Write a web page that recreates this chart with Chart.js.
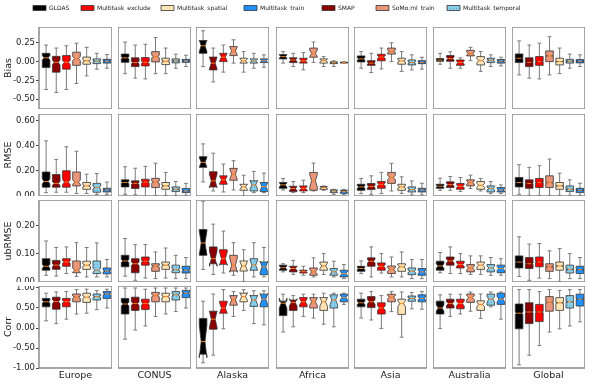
<!DOCTYPE html>
<html>
<head>
<meta charset="utf-8">
<script src="https://cdn.jsdelivr.net/npm/chart.js@4.4.1/dist/chart.umd.min.js"></script>
<style>
  html, body { margin: 0; padding: 0; background: #fff; }
  #fig { position: relative; width: 600px; height: 384px; overflow: hidden; }
  #fig canvas { position: absolute; }
</style>
</head>
<body>
<div id="fig"></div>
<script>
// Regions (columns) and series (boxes inside each panel, left to right)
const regions = ['Europe', 'CONUS', 'Alaska', 'Africa', 'Asia', 'Australia', 'Global'];
const seriesNames = ['GLDAS', 'SMAP', 'Multitask_exclude', 'SoMo.ml_train', 'Multitask_spatial', 'Multitask_temporal', 'Multitask_train'];
const legendOrder = ['GLDAS', 'Multitask_exclude', 'Multitask_spatial', 'Multitask_train', 'SMAP', 'SoMo.ml_train', 'Multitask_temporal'];
// number of sites per region (drives notch size, as matplotlib does)
const nSites = [100, 150, 12, 20, 60, 40, 1500];

const metricNames = ['Bias', 'RMSE', 'ubRMSE', 'Corr'];
const biasTicks = [-0.5, -0.25, 0, 0.25];
const rmseTicks = [0, 0.2, 0.4, 0.6];
const ubrmseTicks = [0, 0.1, 0.2];
const corrTicks = [-1, -0.5, 0, 0.5, 1];

// each box: [whisker low, q1, median, q3, whisker high]
const bias = [
  [[-0.37,-0.08,0.05,0.11,0.22],[-0.41,-0.14,-0.01,0.07,0.18],[-0.37,-0.10,-0.01,0.08,0.21],[-0.29,-0.05,0.04,0.125,0.245],[-0.19,-0.035,0.01,0.06,0.19],[-0.10,-0.027,0.005,0.036,0.11],[-0.088,-0.02,0.005,0.03,0.093]],
  [[-0.16,-0.01,0.05,0.10,0.26],[-0.22,-0.066,-0.013,0.05,0.22],[-0.23,-0.057,-0.01,0.053,0.23],[-0.16,-0.004,0.067,0.133,0.32],[-0.16,-0.04,0.005,0.045,0.18],[-0.088,-0.017,0.01,0.036,0.098],[-0.066,-0.01,0.01,0.03,0.085]],
  [[-0.066,0.11,0.21,0.28,0.41],[-0.27,-0.11,-0.02,0.06,0.18],[-0.14,0.0,0.06,0.11,0.22],[-0.02,0.08,0.142,0.2,0.29],[-0.14,-0.02,0.01,0.045,0.133],[-0.088,-0.02,0.01,0.036,0.11],[-0.075,-0.013,0.013,0.036,0.09]],
  [[-0.02,0.036,0.067,0.093,0.133],[-0.066,-0.013,0.022,0.05,0.11],[-0.11,-0.02,0.01,0.045,0.12],[-0.01,0.058,0.11,0.18,0.26],[-0.066,-0.02,0.013,0.036,0.067],[-0.066,-0.027,-0.013,-0.004,0.01],[-0.02,-0.017,-0.013,-0.008,-0.004]],
  [[-0.088,-0.004,0.036,0.076,0.133],[-0.146,-0.05,-0.02,0.013,0.11],[-0.097,0.01,0.06,0.098,0.18],[0.0,0.1,0.135,0.18,0.25],[-0.13,-0.035,0.01,0.045,0.133],[-0.11,-0.044,-0.013,0.022,0.09],[-0.1,-0.027,-0.01,0.013,0.058]],
  [[-0.035,0.005,0.02,0.04,0.11],[-0.088,0.005,0.04,0.08,0.13],[-0.088,-0.05,-0.013,0.022,0.05],[0.013,0.076,0.107,0.15,0.19],[-0.13,-0.044,0.013,0.067,0.133],[-0.066,-0.013,0.018,0.045,0.09],[-0.057,-0.02,0.005,0.027,0.058]],
  [[-0.177,-0.013,0.045,0.102,0.275],[-0.22,-0.066,-0.01,0.05,0.22],[-0.23,-0.05,0.0,0.067,0.245],[-0.177,0.0,0.076,0.142,0.33],[-0.16,-0.044,0.0,0.045,0.18],[-0.088,-0.02,0.005,0.03,0.1],[-0.066,-0.017,0.005,0.027,0.09]]
];
const rmse = [
  [[0.027,0.07,0.115,0.19,0.437],[0.03,0.07,0.10,0.17,0.29],[0.03,0.07,0.11,0.20,0.39],[0.02,0.08,0.11,0.19,0.355],[0.02,0.053,0.08,0.107,0.173],[0.013,0.03,0.067,0.1,0.178],[0.013,0.032,0.048,0.061,0.11]],
  [[0.013,0.072,0.107,0.128,0.232],[0.01,0.06,0.1,0.12,0.22],[0.0,0.072,0.11,0.133,0.235],[0.005,0.067,0.11,0.14,0.26],[0.005,0.053,0.08,0.107,0.187],[0.005,0.035,0.053,0.072,0.115],[0.005,0.027,0.04,0.06,0.1]],
  [[0.112,0.227,0.267,0.312,0.413],[0.04,0.072,0.12,0.192,0.339],[0.032,0.093,0.128,0.16,0.253],[0.048,0.125,0.173,0.219,0.28],[0.0,0.045,0.072,0.093,0.165],[0.027,0.04,0.088,0.12,0.195],[0.027,0.035,0.075,0.107,0.181]],
  [[0.048,0.061,0.088,0.107,0.139],[0.027,0.035,0.059,0.077,0.115],[0.027,0.04,0.061,0.08,0.125],[0.04,0.045,0.12,0.187,0.261],[0.045,0.053,0.067,0.075,0.08],[0.013,0.027,0.04,0.048,0.053],[0.013,0.021,0.035,0.045,0.053]],
  [[0.019,0.045,0.072,0.093,0.139],[0.013,0.051,0.075,0.099,0.16],[0.019,0.061,0.093,0.115,0.187],[0.04,0.1,0.147,0.187,0.259],[0.021,0.045,0.072,0.093,0.152],[0.008,0.032,0.051,0.072,0.12],[0.008,0.032,0.048,0.061,0.101]],
  [[0.045,0.061,0.077,0.093,0.141],[0.045,0.067,0.09,0.112,0.155],[0.035,0.053,0.077,0.099,0.147],[0.059,0.08,0.107,0.128,0.165],[0.04,0.053,0.085,0.115,0.139],[0.019,0.032,0.059,0.08,0.115],[0.019,0.032,0.048,0.067,0.088]],
  [[0.013,0.072,0.107,0.147,0.248],[0.005,0.061,0.099,0.128,0.227],[0.005,0.067,0.107,0.139,0.24],[0.005,0.067,0.107,0.16,0.293],[0.005,0.053,0.08,0.107,0.181],[0.005,0.035,0.053,0.08,0.128],[0.005,0.027,0.045,0.061,0.101]]
];
const ubrmse = [
  [[0.024,0.042,0.056,0.083,0.146],[0.021,0.045,0.06,0.077,0.123],[0.03,0.056,0.071,0.083,0.125],[0.02,0.033,0.042,0.075,0.14],[0.018,0.045,0.06,0.074,0.123],[0.018,0.03,0.042,0.075,0.139],[0.018,0.029,0.039,0.05,0.08]],
  [[0.021,0.054,0.075,0.095,0.155],[0.006,0.033,0.065,0.083,0.133],[0.014,0.06,0.074,0.089,0.133],[0.012,0.038,0.056,0.065,0.107],[0.014,0.045,0.06,0.071,0.121],[0.012,0.033,0.044,0.06,0.095],[0.012,0.032,0.042,0.056,0.087]],
  [[0.045,0.095,0.139,0.187,0.288],[0.027,0.065,0.083,0.125,0.206],[0.032,0.063,0.083,0.115,0.181],[0.024,0.039,0.06,0.095,0.14],[0.002,0.039,0.057,0.075,0.115],[0.018,0.042,0.06,0.083,0.14],[0.018,0.026,0.054,0.071,0.123]],
  [[0.036,0.042,0.051,0.06,0.065],[0.027,0.036,0.048,0.056,0.077],[0.024,0.032,0.037,0.042,0.056],[0.018,0.024,0.036,0.05,0.086],[0.027,0.042,0.057,0.071,0.101],[0.018,0.024,0.036,0.048,0.074],[0.012,0.018,0.03,0.042,0.062]],
  [[0.03,0.038,0.048,0.056,0.075],[0.018,0.056,0.074,0.086,0.125],[0.032,0.042,0.056,0.068,0.101],[0.018,0.03,0.045,0.057,0.089],[0.018,0.038,0.054,0.065,0.107],[0.012,0.026,0.038,0.05,0.08],[0.012,0.024,0.036,0.048,0.08]],
  [[0.033,0.042,0.057,0.074,0.105],[0.03,0.06,0.075,0.089,0.125],[0.03,0.05,0.062,0.074,0.101],[0.027,0.036,0.05,0.062,0.093],[0.027,0.045,0.06,0.071,0.093],[0.024,0.036,0.05,0.062,0.087],[0.024,0.033,0.048,0.06,0.083]],
  [[0.02,0.05,0.071,0.093,0.161],[0.006,0.048,0.065,0.087,0.135],[0.014,0.054,0.071,0.089,0.137],[0.012,0.038,0.054,0.065,0.111],[0.002,0.042,0.057,0.071,0.119],[0.012,0.032,0.045,0.06,0.101],[0.012,0.03,0.044,0.056,0.087]]
];
const corr = [
  [[0.18,0.53,0.655,0.74,0.87],[0.11,0.47,0.66,0.77,0.9],[0.22,0.53,0.655,0.74,0.91],[0.35,0.655,0.77,0.85,0.96],[0.37,0.64,0.77,0.87,0.97],[0.46,0.7,0.785,0.85,0.94],[0.5,0.74,0.85,0.91,0.97]],
  [[-0.28,0.35,0.6,0.74,1.0],[-0.05,0.44,0.61,0.77,1.0],[0.05,0.46,0.61,0.72,0.97],[0.29,0.655,0.81,0.89,1.0],[0.35,0.655,0.785,0.87,1.0],[0.41,0.7,0.83,0.91,1.0],[0.5,0.76,0.87,0.94,1.0]],
  [[-0.87,-0.655,-0.34,0.24,0.67],[-0.68,-0.03,0.22,0.42,0.85],[-0.02,0.37,0.5,0.67,0.96],[0.29,0.57,0.7,0.81,0.91],[0.44,0.655,0.785,0.87,0.96],[0.11,0.54,0.7,0.81,0.93],[0.08,0.53,0.72,0.845,0.93]],
  [[-0.1,0.31,0.62,0.67,0.845],[0.03,0.44,0.64,0.7,0.81],[0.29,0.53,0.655,0.76,0.845],[0.25,0.5,0.655,0.76,0.845],[0.095,0.44,0.655,0.76,0.87],[0.03,0.5,0.7,0.83,0.87],[0.59,0.655,0.76,0.845,0.87]],
  [[0.25,0.53,0.63,0.72,0.87],[0.2,0.51,0.655,0.785,0.91],[-0.01,0.35,0.5,0.63,0.81],[0.41,0.655,0.77,0.845,0.91],[-0.23,0.34,0.61,0.72,0.9],[0.48,0.67,0.74,0.8,0.89],[0.47,0.655,0.74,0.83,0.91]],
  [[-0.01,0.35,0.5,0.67,0.83],[0.29,0.5,0.61,0.72,0.845],[0.35,0.48,0.61,0.72,0.845],[0.42,0.64,0.76,0.85,0.9],[0.24,0.44,0.59,0.68,0.85],[0.53,0.57,0.72,0.845,0.9],[0.22,0.59,0.72,0.87,0.9]],
  [[-0.92,-0.02,0.37,0.6,0.96],[-0.68,0.11,0.4,0.63,0.96],[-0.44,0.16,0.4,0.59,0.91],[-0.1,0.42,0.64,0.785,0.96],[-0.02,0.44,0.63,0.76,0.94],[0.05,0.5,0.655,0.81,0.96],[0.155,0.55,0.72,0.845,0.96]]
];

const metricData = [bias, rmse, ubrmse, corr];
const metricTicks = [biasTicks, rmseTicks, ubrmseTicks, corrTicks];
const metricRange = [[-0.63, 0.46], [0, 0.65], [0, 0.292], [-1, 1.05]];

// dotted hatch for the temporal boxes
function dotPattern(base, dot) {
  const c = document.createElement('canvas');
  c.width = 3; c.height = 3;
  const g = c.getContext('2d');
  g.fillStyle = base; g.fillRect(0, 0, 3, 3);
  g.fillStyle = dot; g.fillRect(1, 1, 1, 1);
  return g.createPattern(c, 'repeat');
}

// styles
const seriesColors = {
  'GLDAS': '#000000',
  'SMAP': '#8b0000',
  'Multitask_exclude': '#ff0000',
  'SoMo.ml_train': '#e9967a',
  'Multitask_spatial': '#ffe4b5',
  'Multitask_temporal': dotPattern('#87ceeb', '#6aa9c6'),
  'Multitask_train': '#1e90ff'
};
const colLeft = [39, 118, 196, 276, 354, 433, 512];
const rowTop = [27, 114, 200, 286];
const panelW = 73, panelH = 82;
const yAxisW = 39, xAxisH = 16;
const boxWidth = 0.75;
const legendX = [33, 81, 161, 244, 322, 376, 447];

Chart.defaults.font.family = "'DejaVu Sans', sans-serif";
Chart.defaults.color = '#222';
Chart.defaults.animation = false;

// draws notched boxes (matplotlib style) with the chart's own scales
const notchBoxPlugin = {
  id: 'notchBox',
  afterDatasetsDraw(chart) {
    const ctx = chart.ctx;
    const x = chart.scales.x, y = chart.scales.y;
    const area = chart.chartArea;
    ctx.save();
    ctx.beginPath();
    ctx.rect(area.left, area.top, area.right - area.left, area.bottom - area.top);
    ctx.clip();
    chart.data.datasets.forEach(ds => {
      const [lo, q1, med, q3, hi] = ds.stats;
      const pos = ds.data[0].x;
      const xl = x.getPixelForValue(pos - boxWidth / 2);
      const xr = x.getPixelForValue(pos + boxWidth / 2);
      const xc = x.getPixelForValue(pos);
      const cl = x.getPixelForValue(pos - boxWidth / 4);
      const cr = x.getPixelForValue(pos + boxWidth / 4);
      const notch = 1.57 * (q3 - q1) / Math.sqrt(ds.nSites);
      const py = v => y.getPixelForValue(v);

      // whiskers and caps
      ctx.strokeStyle = '#7a7a7a';
      ctx.lineWidth = 1;
      ctx.beginPath();
      ctx.moveTo(xc, py(q1)); ctx.lineTo(xc, py(lo));
      ctx.moveTo(xc, py(q3)); ctx.lineTo(xc, py(hi));
      ctx.moveTo(cl, py(lo)); ctx.lineTo(cr, py(lo));
      ctx.moveTo(cl, py(hi)); ctx.lineTo(cr, py(hi));
      ctx.stroke();

      // notched box
      const pts = [[xl, q1], [xr, q1], [xr, med - notch], [cr, med], [xr, med + notch],
                   [xr, q3], [xl, q3], [xl, med + notch], [cl, med], [xl, med - notch]];
      ctx.beginPath();
      pts.forEach((p, k) => k ? ctx.lineTo(p[0], py(p[1])) : ctx.moveTo(p[0], py(p[1])));
      ctx.closePath();
      ctx.fillStyle = ds.backgroundColor;
      ctx.fill();
      ctx.strokeStyle = '#333';
      ctx.lineWidth = 0.8;
      ctx.stroke();

      // median
      ctx.strokeStyle = '#ff7f0e';
      ctx.lineWidth = 1;
      ctx.beginPath();
      ctx.moveTo(cl, py(med)); ctx.lineTo(cr, py(med));
      ctx.stroke();
    });
    ctx.restore();

    // panel frame
    ctx.save();
    ctx.strokeStyle = '#8a8a8a';
    ctx.lineWidth = 1.5;
    ctx.strokeRect(area.left, area.top, area.right - area.left, area.bottom - area.top);
    ctx.restore();
  }
};

const fig = document.getElementById('fig');

function makePanel(row, col) {
  const showX = row === 3, showY = col === 0;
  const canvas = document.createElement('canvas');
  const left = showY ? 0 : colLeft[col];
  const width = colLeft[col] + panelW - left;
  const height = panelH + (showX ? xAxisH : 0);
  canvas.width = width;
  canvas.height = height;
  canvas.style.left = left + 'px';
  canvas.style.top = rowTop[row] + 'px';
  canvas.style.width = width + 'px';
  canvas.style.height = height + 'px';
  fig.appendChild(canvas);

  const boxes = metricData[row][col];
  const datasets = seriesNames.map((name, k) => ({
    label: name,
    data: [{ x: k + 1, y: boxes[k][2] }],
    stats: boxes[k],
    nSites: nSites[col],
    backgroundColor: seriesColors[name],
    pointRadius: 0,
    pointHoverRadius: 0
  }));

  new Chart(canvas, {
    type: 'scatter',
    data: { datasets },
    options: {
      responsive: false,
      maintainAspectRatio: false,
      devicePixelRatio: 1,
      layout: { padding: 0, autoPadding: false },
      events: [],
      plugins: { legend: { display: false }, tooltip: { enabled: false } },
      scales: {
        x: {
          type: 'linear',
          display: showX,
          min: 0.3,
          max: 7.5,
          afterFit: s => {
            s.height = showX ? xAxisH : 0;
            s.paddingLeft = 0; s.paddingRight = 0;
          },
          ticks: { display: false },
          grid: { display: false },
          border: { display: false },
          title: {
            display: true,
            text: regions[col],
            font: { size: 9.5 },
            color: '#222',
            padding: { top: 0, bottom: 3 }
          }
        },
        y: {
          type: 'linear',
          display: showY,
          min: metricRange[row][0],
          max: metricRange[row][1],
          afterBuildTicks: s => { s.ticks = metricTicks[row].map(v => ({ value: v })); },
          afterFit: s => {
            s.width = showY ? yAxisW : 0;
            s.paddingTop = 0; s.paddingBottom = 0;
          },
          ticks: {
            callback: v => v.toFixed(2),
            font: { size: 8.5 },
            color: '#222',
            padding: 1
          },
          grid: { display: true, drawOnChartArea: false, drawTicks: true, tickLength: 3, color: '#444' },
          border: { display: false },
          title: {
            display: true,
            text: metricNames[row],
            font: { size: 9.5 },
            color: '#222',
            padding: { top: 3, bottom: 0 }
          }
        }
      }
    },
    plugins: [notchBoxPlugin]
  });
}

for (let r = 0; r < 4; r++) {
  for (let c = 0; c < 7; c++) makePanel(r, c);
}

// legend: one entry per small chart so each sits where the reference has it
legendOrder.forEach((name, i) => {
  const canvas = document.createElement('canvas');
  canvas.width = 80;
  canvas.height = 14;
  canvas.style.left = (legendX[i] - 1) + 'px';
  canvas.style.top = '4px';
  fig.appendChild(canvas);
  new Chart(canvas, {
    type: 'bar',
    data: {
      datasets: [{
        label: name,
        data: [],
        backgroundColor: seriesColors[name],
        borderColor: '#333',
        borderWidth: 0.8
      }]
    },
    options: {
      responsive: false,
      devicePixelRatio: 1,
      events: [],
      layout: { padding: 0 },
      scales: { x: { display: false }, y: { display: false } },
      plugins: {
        tooltip: { enabled: false },
        legend: {
          display: true,
          position: 'top',
          align: 'start',
          labels: { boxWidth: 13, boxHeight: 5, padding: 1, font: { size: 6 }, color: '#222' }
        }
      }
    }
  });
});
</script>
</body>
</html>
